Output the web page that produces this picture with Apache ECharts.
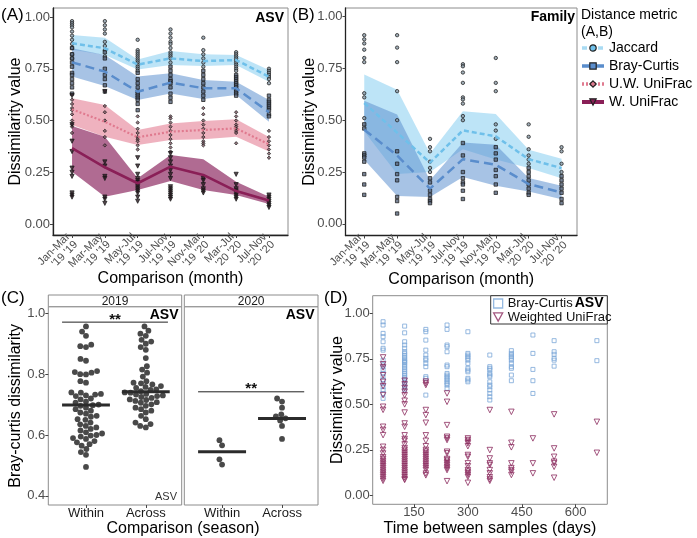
<!DOCTYPE html>
<html><head><meta charset="utf-8">
<script src="https://cdn.jsdelivr.net/npm/echarts@6/dist/echarts.min.js"></script>
<style>html,body{margin:0;padding:0;background:#fff}#c{width:697px;height:538px}</style>
</head><body><div id="c"></div><script>
const FONT = '"Liberation Sans", Arial, Helvetica, sans-serif';

// ---------- Panel A / B : categories ----------
const monthLabels = ["Jan-Mar\n'19 '19","Mar-May\n'19 '19","May-Jul\n'19 '19","Jul-Nov\n'19 '19","Nov-Mar\n'19 '20","Mar-Jul\n'20 '20","Jul-Nov\n'20 '20"];
const metricNames = ['Jaccard','Bray-Curtis','U.W. UniFrac','W. UniFrac'];
const dissimTicks = [0, 0.25, 0.5, 0.75, 1];

// Panel A (ASV) mean and band limits
const aJacMean = [0.873,0.849,0.770,0.800,0.787,0.792,0.712];
const aJacLo   = [0.842,0.816,0.747,0.768,0.763,0.768,0.687];
const aJacHi   = [0.913,0.900,0.795,0.836,0.820,0.816,0.744];
const aBCMean  = [0.781,0.736,0.639,0.683,0.656,0.656,0.540];
const aBCLo    = [0.712,0.667,0.599,0.631,0.604,0.623,0.494];
const aBCHi    = [0.849,0.816,0.712,0.728,0.696,0.687,0.599];
const aUWMean  = [0.554,0.494,0.419,0.446,0.454,0.462,0.385];
const aUWLo    = [0.478,0.422,0.382,0.406,0.409,0.422,0.350];
const aUWHi    = [0.607,0.575,0.454,0.486,0.498,0.506,0.420];
const aWMean   = [0.366,0.274,0.197,0.277,0.237,0.159,0.113];
const aWLo     = [0.253,0.132,0.164,0.208,0.164,0.140,0.097];
const aWHi     = [0.473,0.422,0.221,0.333,0.313,0.204,0.132];

// Panel A points per category
const aJacPts = [
  [0.98,0.97,0.96,0.95,0.93,0.91,0.89,0.87,0.85,0.82,0.80],
  [0.98,0.96,0.94,0.92,0.88,0.86,0.84,0.81],
  [0.89,0.84,0.83,0.82,0.81,0.80,0.79,0.78,0.77,0.76,0.75,0.74],
  [0.94,0.92,0.90,0.88,0.87,0.85,0.83,0.82,0.81,0.80,0.78],
  [0.90,0.84,0.82,0.80,0.78,0.76],
  [0.83,0.82,0.81,0.80,0.79,0.78,0.77,0.76,0.75,0.74],
  [0.75,0.74,0.73,0.72,0.71,0.70,0.68]];
const aBCPts = [
  [0.85,0.82,0.80,0.78,0.76,0.73,0.72,0.70,0.68,0.66,0.63],
  [0.83,0.80,0.75,0.72,0.70,0.67,0.64],
  [0.73,0.70,0.68,0.66,0.64,0.63,0.62,0.61,0.60,0.58,0.55],
  [0.76,0.74,0.72,0.70,0.69,0.68,0.66,0.63,0.61,0.59],
  [0.74,0.72,0.70,0.68,0.66,0.64,0.62,0.60],
  [0.72,0.71,0.70,0.69,0.68,0.67,0.66,0.65,0.64,0.63,0.62],
  [0.62,0.60,0.59,0.58,0.57,0.56,0.55,0.53,0.52]];
const aUWPts = [
  [0.60,0.58,0.56,0.55,0.53,0.50,0.48,0.47,0.44],
  [0.57,0.54,0.50,0.45,0.42,0.38],
  [0.52,0.49,0.46,0.44,0.42,0.41,0.40,0.38,0.36],
  [0.52,0.51,0.49,0.47,0.45,0.43,0.41,0.39,0.37,0.35],
  [0.56,0.53,0.50,0.48,0.46,0.44,0.42,0.40,0.39,0.38],
  [0.54,0.52,0.50,0.48,0.47,0.46,0.45,0.44,0.39],
  [0.45,0.42,0.40,0.38,0.36,0.34,0.32]];
const aWPts = [
  [0.62,0.48,0.40,0.35,0.27,0.25,0.23,0.15,0.14,0.13],
  [0.64,0.30,0.28,0.23,0.22,0.13,0.12,0.10],
  [0.32,0.28,0.24,0.22,0.21,0.20,0.19,0.18,0.17,0.16,0.15,0.13,0.11],
  [0.34,0.32,0.30,0.28,0.26,0.24,0.22,0.18,0.17,0.16,0.15,0.14,0.13,0.12],
  [0.22,0.21,0.19,0.17,0.16,0.15],
  [0.24,0.19,0.17,0.16,0.15,0.14,0.13,0.12],
  [0.14,0.13,0.12,0.11,0.10,0.09,0.08]];

// Panel B (Family)
const bJacMean = [0.583,0.440,0.295,0.451,0.422,0.312,0.269];
const bJacLo   = [0.446,0.240,0.250,0.360,0.310,0.270,0.220];
const bJacHi   = [0.720,0.647,0.340,0.543,0.530,0.357,0.314];
const bBCMean  = [0.454,0.330,0.170,0.312,0.285,0.192,0.151];
const bBCLo    = [0.309,0.135,0.130,0.226,0.184,0.156,0.119];
const bBCHi    = [0.594,0.527,0.210,0.393,0.382,0.221,0.184];
const bJacPts = [
  [0.91,0.89,0.87,0.84,0.80,0.78,0.63,0.61,0.51],
  [0.91,0.85,0.78,0.64,0.50],
  [0.41,0.37,0.35,0.30,0.27,0.25],
  [0.77,0.76,0.73,0.68,0.61,0.60,0.58,0.52,0.50],
  [0.80,0.68,0.64,0.48,0.45,0.41],
  [0.48,0.42,0.36,0.33,0.31,0.29],
  [0.37,0.35,0.29,0.25]];
const bBCPts = [
  [0.48,0.46,0.34,0.33,0.32,0.30,0.24,0.19,0.14],
  [0.35,0.29,0.24,0.21,0.13,0.11,0.05],
  [0.22,0.20,0.16,0.14,0.12,0.11,0.10],
  [0.39,0.33,0.25,0.22,0.20,0.19,0.16,0.12],
  [0.37,0.34,0.31,0.26,0.23,0.19,0.15],
  [0.27,0.25,0.23,0.21,0.19,0.17,0.15,0.14],
  [0.23,0.21,0.19,0.17,0.15,0.12,0.10]];

// ---------- Panel C ----------
const seasonCats = ['Within','Across'];
const facetYears = ['2019','2020'];
const cTicks = [0.4, 0.6, 0.8, 1.0];
const cWithin19 = [0.957,0.94,0.926,0.897,0.892,0.889,0.85,0.844,0.81,0.807,0.805,0.80,0.799,0.777,0.772,0.74,0.739,0.735,0.733,0.73,0.728,0.72,0.717,0.71,0.706,0.70,0.698,0.696,0.69,0.685,0.68,0.674,0.67,0.663,0.66,0.652,0.65,0.641,0.635,0.63,0.625,0.62,0.615,0.609,0.605,0.60,0.598,0.595,0.59,0.587,0.58,0.576,0.57,0.565,0.554,0.544,0.535,0.495];
const cAcross19 = [0.957,0.943,0.933,0.926,0.913,0.907,0.90,0.889,0.88,0.853,0.826,0.815,0.805,0.792,0.777,0.772,0.77,0.766,0.761,0.758,0.755,0.75,0.748,0.744,0.74,0.739,0.735,0.733,0.73,0.728,0.725,0.722,0.717,0.715,0.712,0.708,0.706,0.701,0.696,0.69,0.685,0.68,0.674,0.663,0.652,0.641,0.636,0.63,0.625];
const cWithin20 = [0.583,0.566,0.52,0.503];
const cAcross20 = [0.72,0.71,0.69,0.668,0.661,0.655,0.648,0.63,0.587];
const cMean19 = [0.699, 0.742];
const cMean20 = [0.545, 0.654];
const cSigY = [0.971, 0.742];

// ---------- Panel D ----------
const dDays = [64,124,183,242,300,361,421,481,540,659];
const dDayTicks = [150,300,450,600];
const dBC = [
  [0.954,0.936,0.89,0.872,0.844,0.808,0.798,0.743,0.716,0.707,0.688,0.67,0.652,0.634,0.615,0.597,0.579,0.56,0.533],
  [0.93,0.893,0.844,0.826,0.808,0.79,0.78,0.77,0.76,0.75,0.74,0.735,0.73,0.72,0.71,0.70,0.69,0.68,0.67,0.66,0.65,0.64,0.63,0.62,0.61,0.60,0.59,0.58],
  [0.912,0.899,0.853,0.798,0.771,0.753,0.743,0.725,0.707,0.652,0.643,0.551],
  [0.936,0.912,0.826,0.817,0.789,0.716,0.707,0.67,0.661,0.652,0.643,0.634,0.624,0.615,0.606,0.588],
  [0.899,0.78,0.771,0.762,0.753,0.743,0.725,0.698,0.688,0.679,0.643,0.634,0.624],
  [0.771,0.707,0.698,0.688,0.67,0.661,0.652,0.624,0.606,0.597,0.579,0.56,0.542,0.524],
  [0.795,0.78,0.771,0.762,0.753,0.743,0.725,0.707,0.698,0.661,0.63],
  [0.881,0.78,0.692,0.63,0.56],
  [0.85,0.789,0.775,0.753,0.743,0.71],
  [0.85,0.74]];
const dWU = [
  [0.758,0.72,0.703,0.66,0.624,0.60,0.551,0.487,0.47,0.377,0.36,0.331,0.267,0.25,0.23,0.21,0.20,0.19,0.18,0.17,0.16,0.15,0.14,0.13,0.12,0.11,0.10,0.09,0.08],
  [0.63,0.61,0.59,0.57,0.55,0.52,0.50,0.455,0.395,0.377,0.33,0.31,0.30,0.28,0.26,0.25,0.24,0.23,0.22,0.21,0.20,0.19,0.18,0.17,0.16,0.15,0.14,0.13,0.12,0.11,0.10,0.09,0.085],
  [0.625,0.615,0.606,0.469,0.441,0.399,0.33,0.30,0.27,0.25,0.24,0.23,0.22,0.21,0.20,0.19,0.18,0.17,0.16,0.15,0.14,0.12,0.11],
  [0.56,0.514,0.386,0.322,0.313,0.304,0.24,0.231,0.20,0.194,0.185,0.176,0.167,0.157,0.148,0.139,0.078],
  [0.313,0.304,0.295,0.286,0.27,0.222,0.212,0.176,0.16,0.139,0.13,0.121,0.112,0.102,0.069],
  [0.469,0.249,0.203,0.176,0.167,0.139,0.121,0.10,0.088,0.08],
  [0.459,0.289,0.264,0.176,0.15,0.139,0.13,0.112],
  [0.313,0.176,0.121],
  [0.445,0.258,0.212,0.185,0.176,0.157,0.097],
  [0.404,0.234]];
const dLegendNames = ['Bray-Curtis','Weighted UniFrac'];

// ---------- styles ----------
const LINE = {J:'#6fc0ea', BC:'#5a8dcc', UW:'#e07a8f', W:'#8a1f57'};
const BAND = {J:'rgba(135,206,240,0.55)', BC:'rgba(95,145,208,0.55)', UW:'rgba(225,115,138,0.55)', W:'rgba(135,30,90,0.66)'};
const TRI_DOWN = 'path://M0,0L10,0L5,9Z';
const SYM = ['circle','rect','diamond',TRI_DOWN];
const DASH = [[5,3],[9,5],[2,2],'solid'];
const LW = [2.5,2.5,2.2,2.6];
const KEYS = ['J','BC','UW','W'];
const PT_FILL = ['#8a9aa6','#56647a','#7a5560','#2a1a22'];

function band(gi, lo, hi, color) {
  return {type:'custom', xAxisIndex:gi, yAxisIndex:gi, silent:true, z:1,
    data: lo.map((l,i)=>[i,l,hi[i]]),
    renderItem:(params, api)=>{
      if (params.dataIndex !== 0) return null;
      const p=[];
      for (let i=0;i<hi.length;i++) p.push(api.coord([i,hi[i]]));
      for (let i=lo.length-1;i>=0;i--) p.push(api.coord([i,lo[i]]));
      return {type:'polygon', shape:{points:p}, style:{fill:color}};
    }};
}
function meanLine(gi, k, mean) {
  return {type:'line', name:metricNames[k], xAxisIndex:gi, yAxisIndex:gi, silent:true, z:5,
    data: mean.map((m,i)=>[i,m]), showSymbol:false, symbol:SYM[k], symbolSize:8,
    lineStyle:{color:LINE[KEYS[k]], width:LW[k], type:DASH[k]},
    itemStyle:{color:LINE[KEYS[k]], borderColor:'#222', borderWidth:1}};
}
function points(gi, k, arr) {
  const data=[]; arr.forEach((col,i)=>col.forEach(v=>data.push([i,v])));
  return {type:'scatter', name:metricNames[k], xAxisIndex:gi, yAxisIndex:gi, silent:true, z:4,
    data, symbol:SYM[k], symbolSize:k===3?4.2:3.4,
    itemStyle:{color:PT_FILL[k], borderColor:'#161616', borderWidth:0.9}};
}
function swarm(vals, base, d, pxV, pxU) {
  const s = vals.slice().sort((a,b)=>a-b), placed=[], out=[];
  for (const v of s) {
    const y=v*pxV, blocks=[];
    for (const q of placed) { const dy=Math.abs(q.y-y); if (dy<d) { const w=Math.sqrt(d*d-dy*dy); blocks.push([q.x-w,q.x+w]); } }
    const c=[0]; blocks.forEach(b=>c.push(b[0],b[1]));
    c.sort((a,b)=>Math.abs(a)-Math.abs(b));
    let x=0;
    for (const t of c) { if (blocks.every(b=>t<=b[0]+1e-6||t>=b[1]-1e-6)) { x=t; break; } }
    placed.push({x,y}); out.push([base + x/pxU, v]);
  }
  return out;
}
function meanBars(gi, means) {
  return {type:'custom', xAxisIndex:gi, yAxisIndex:gi, silent:true, z:6,
    data: means.map((m,i)=>[i,m]),
    renderItem:(params, api)=>{
      const a=api.coord([api.value(0)-0.4, api.value(1)]), b=api.coord([api.value(0)+0.4, api.value(1)]);
      return {type:'line', shape:{x1:a[0],y1:a[1],x2:b[0],y2:b[1]}, style:{stroke:'#2b2b2b', lineWidth:3}};
    }};
}
function sigBar(gi, y) {
  return {type:'custom', xAxisIndex:gi, yAxisIndex:gi, silent:true, z:6,
    data: [[-0.4, y, 1.37]],
    renderItem:(params, api)=>{
      const a=api.coord([api.value(0), api.value(1)]), b=api.coord([api.value(2), api.value(1)]);
      return {type:'group', children:[
        {type:'line', shape:{x1:a[0],y1:a[1],x2:b[0],y2:b[1]}, style:{stroke:'#222', lineWidth:1}},
        {type:'text', style:{text:'**', x:(a[0]+b[0])/2, y:a[1]+5, align:'center', verticalAlign:'bottom', font:'bold 15px '+FONT, fill:'#111'}}]};
    }};
}

const tickLabel = {color:'#4d4d4d', fontSize:13, fontFamily:FONT};
function yAx(gi, min, max, ticks, dec, name, gap, dark, showLab) {
  return {type:'value', gridIndex:gi, min, max, splitLine:{show:false},
    axisLine:{show:dark, onZero:false, lineStyle:{color:'#222', width:1.3}},
    axisTick:{show:showLab, length:3, customValues:ticks, lineStyle:{color:'#444'}},
    axisLabel:{show:showLab, customValues:ticks, margin:3, formatter:v=>v.toFixed(dec), ...tickLabel},
    name, nameLocation:'middle', nameGap:gap, nameMoveOverlap:false, nameTextStyle:{fontSize:16, color:'#000', fontFamily:FONT}};
}
function xCat(gi, min, max, labels, rot, name, gap) {
  const vals = labels.map((_,i)=>i);
  return {type:'value', gridIndex:gi, min, max, splitLine:{show:false},
    axisLine:{show:rot>0, onZero:false, lineStyle:{color:'#222', width:1.3}},
    axisTick:{show:true, length:3, customValues:vals, lineStyle:{color:'#444'}},
    axisLabel:{customValues:vals, rotate:rot, margin:rot>0?4:2, formatter:v=>labels[Math.round(v)],
      color:rot>0?'#4d4d4d':'#1a1a1a', fontSize:rot>0?11:13, fontFamily:FONT, lineHeight:rot>0?11:13},
    name, nameLocation:'middle', nameGap:gap, nameMoveOverlap:false, nameTextStyle:{fontSize:16, color:'#000', fontFamily:FONT}};
}

const gridBase = {show:true, borderColor:'#8c8c8c', borderWidth:1, backgroundColor:'transparent', containLabel:false};
const series = [];
[[aJacLo,aJacHi],[aBCLo,aBCHi],[aUWLo,aUWHi],[aWLo,aWHi]].forEach((b,k)=>series.push(band(0,b[0],b[1],BAND[KEYS[k]])));
[aJacMean,aBCMean,aUWMean,aWMean].forEach((m,k)=>series.push(meanLine(0,k,m)));
[[bJacLo,bJacHi],[bBCLo,bBCHi]].forEach((b,k)=>series.push(band(1,b[0],b[1],BAND[KEYS[k]])));
[bJacMean,bBCMean].forEach((m,k)=>series.push(meanLine(1,k,m)));
[aJacPts,aBCPts,aUWPts,aWPts].forEach((p,k)=>series.push(points(0,k,p)));
[bJacPts,bBCPts].forEach((p,k)=>series.push(points(1,k,p)));
// C
const C_PXV = 304.5, C_PXU = 59.9, C_D = 5.8;
series.push({type:'scatter', xAxisIndex:2, yAxisIndex:2, silent:true, z:4, symbolSize:5.8, itemStyle:{color:'#1c1c1c'},
  data: swarm(cWithin19,0,C_D,C_PXV,C_PXU).concat(swarm(cAcross19,1,C_D,C_PXV,C_PXU))});
series.push({type:'scatter', xAxisIndex:3, yAxisIndex:3, silent:true, z:4, symbolSize:5.8, itemStyle:{color:'#1c1c1c'},
  data: swarm(cWithin20,0,C_D,C_PXV,C_PXU).concat(swarm(cAcross20,1,C_D,C_PXV,C_PXU))});
series.push(meanBars(2,cMean19), meanBars(3,cMean20), sigBar(2,cSigY[0]), sigBar(3,cSigY[1]));
// D
const dBCData=[], dWUData=[];
dDays.forEach((d,i)=>{ dBC[i].forEach(v=>dBCData.push([d,v])); dWU[i].forEach(v=>dWUData.push([d,v])); });
series.push({type:'scatter', name:'dBC', xAxisIndex:4, yAxisIndex:4, silent:true, z:4, data:dBCData, symbol:'rect', symbolSize:4,
  itemStyle:{color:'rgba(0,0,0,0)', borderColor:'#7ca8d8', borderWidth:1}});
series.push({type:'scatter', name:'dWU', xAxisIndex:4, yAxisIndex:4, silent:true, z:4, data:dWUData, symbol:TRI_DOWN, symbolSize:5.5,
  itemStyle:{color:'rgba(0,0,0,0)', borderColor:'#8b2a5e', borderWidth:1}});

const txt = (text, x, y, font, align, extra) => ({type:'text', z:20, silent:true, x, y,
  style:Object.assign({text, font, fill:'#000', align:align||'left', verticalAlign:'middle'}, extra||{})});
const F = (s,b)=> (b?'bold ':'')+s+'px '+FONT;

const option = {
  animation:false,
  textStyle:{fontFamily:FONT},
  grid:[
    Object.assign({left:53, top:8, width:235, height:227}, gridBase),
    Object.assign({left:345.5, top:8, width:231.5, height:227.5}, gridBase),
    Object.assign({left:48.3, top:306.7, width:133.4, height:198.3}, gridBase),
    Object.assign({left:184.3, top:306.7, width:133.7, height:198.3}, gridBase),
    Object.assign({left:372.7, top:295.7, width:234.6, height:208.6}, gridBase)
  ],
  xAxis:[
    xCat(0,-0.58,6.58,monthLabels,45,'Comparison (month)',36),
    xCat(1,-0.57,6.47,monthLabels,45,'Comparison (month)',36),
    xCat(2,-0.63,1.6,seasonCats,0,'',0),
    xCat(3,-0.63,1.6,seasonCats,0,'',0),
    {type:'value', gridIndex:4, min:35.1, max:688, splitLine:{show:false},
      axisLine:{show:false, onZero:false},
      axisTick:{show:true, length:3, customValues:dDayTicks, lineStyle:{color:'#444'}},
      axisLabel:{customValues:dDayTicks, margin:2, ...tickLabel},
      name:'Time between samples (days)', nameLocation:'middle', nameGap:16, nameMoveOverlap:false, nameTextStyle:{fontSize:16, color:'#000', fontFamily:FONT}}
  ],
  yAxis:[
    yAx(0,-0.0531,1.0435,dissimTicks,2,'Dissimilarity value',29.5,true,true),
    yAx(1,-0.0560,1.0410,dissimTicks,2,'Dissimilarity value',27.5,true,true),
    yAx(2,0.370,1.0217,cTicks,1,'Bray-curtis dissimilarity',25,false,true),
    yAx(3,0.370,1.0217,cTicks,1,'',0,false,false),
    yAx(4,-0.049,1.097,dissimTicks,2,'Dissimilarity value',27.5,false,true)
  ],
  legend:[
    {left:580, top:41, orient:'vertical', padding:0, itemGap:4, itemWidth:22, itemHeight:8, selectedMode:false,
      textStyle:{fontSize:14, color:'#000', fontFamily:FONT},
      data: metricNames.map((n,k)=>({name:n,
        lineStyle:{color:k===0?'#a9dbf3':LINE[KEYS[k]], width:k===3?4:3.5, type:DASH[k]},
        itemStyle:{color:LINE[KEYS[k]], borderColor:'#222', borderWidth:1.2}}))},
    {left:493, top:297, orient:'vertical', padding:0, itemGap:0.5, itemWidth:9, itemHeight:9, selectedMode:false, z:12,
      textStyle:{fontSize:13, color:'#111', fontFamily:FONT, lineHeight:13},
      formatter:n=> n==='dBC'?dLegendNames[0]:dLegendNames[1],
      data:[{name:'dBC', itemStyle:{color:'rgba(0,0,0,0)', borderColor:'#7ca8d8', borderWidth:1.3}},
            {name:'dWU', itemStyle:{color:'rgba(0,0,0,0)', borderColor:'#8b2a5e', borderWidth:1.3}}]}
  ],
  graphic:{elements:[
    txt('(A)',1,15,F(17)), txt('(B)',292,15,F(17)), txt('(C)',1,298,F(17)), txt('(D)',324,298,F(17)),
    txt('ASV',284,18,F(14,true),'right'), txt('Family',575,17,F(14,true),'right'),
    txt('Distance metric',581,15,F(14)), txt('(A,B)',581,32,F(14)),
    {type:'rect', z:10, silent:true, shape:{x:48.3,y:295,width:133.4,height:11.7}, style:{fill:'#fff', stroke:'#8c8c8c', lineWidth:1}},
    {type:'rect', z:10, silent:true, shape:{x:184.3,y:295,width:133.7,height:11.7}, style:{fill:'#fff', stroke:'#8c8c8c', lineWidth:1}},
    txt(facetYears[0],115,301.5,F(12),'center',{fill:'#1a1a1a'}), txt(facetYears[1],251.2,301.5,F(12),'center',{fill:'#1a1a1a'}),
    txt('ASV',178.5,315.5,F(14,true),'right'), txt('ASV',314.5,315.5,F(14,true),'right'),
    txt('ASV',177,496.5,F(11),'right',{fill:'#333'}),
    txt('Comparison (season)',183,529,F(16),'center'),
    {type:'rect', z:10, silent:true, shape:{x:490.7,y:295.7,width:116.6,height:28.3}, style:{fill:'#fff', stroke:'#333', lineWidth:1}},
    txt('ASV',603.5,303.5,F(14,true),'right')
  ]},
  series
};
const chart = echarts.init(document.getElementById('c'), null, {renderer:'canvas'});
chart.setOption(option);
</script></body></html>
